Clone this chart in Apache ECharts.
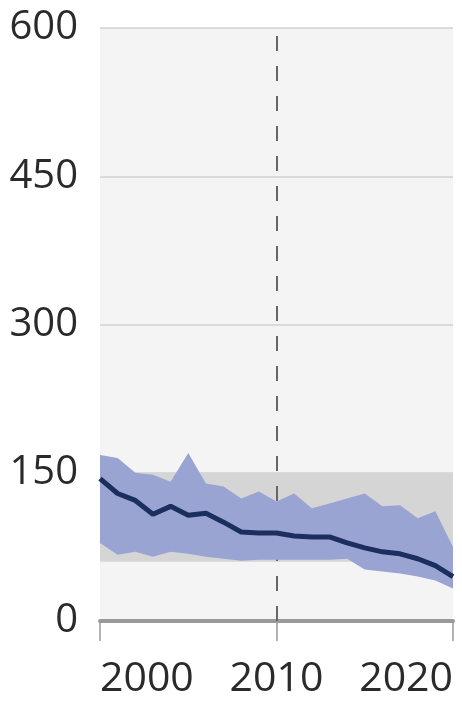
<!DOCTYPE html>
<html>
<head>
<meta charset="utf-8">
<script src="https://cdn.jsdelivr.net/npm/echarts@6/dist/echarts.min.js"></script>
<style>
html,body{margin:0;padding:0;background:#fff;}
#chart{width:462px;height:702px;}
</style>
</head>
<body>
<div id="chart"></div>
<script>
var years = ['2000','2001','2002','2003','2004','2005','2006','2007','2008','2009','2010','2011','2012','2013','2014','2015','2016','2017','2018','2019','2020'];
var central = [144,129,122,108,116,107,109,100,90,89,89,86,85,85,79,74,70,68,63,56,45];
var upper = [168,165,150,148,141,170,139,136,124,131,121,129,114,119,124,129,116,117,104,111,75];
var lower = [79,67,70,65,70,68,65,63,61,62,62,62,62,62,63,52,50,48,45,41,33];
var refBand = [60,150];
var yTicks = [0,150,300,450,600];
var xTickLabels = ['2000','2010','2020'];
var markYear = '2010';

var chart = echarts.init(document.getElementById('chart'), null, {renderer:'canvas'});
var diff = upper.map(function(u,i){ return u - lower[i]; });
function showTick(i, v){ return xTickLabels.indexOf(String(v)) >= 0; }

chart.setOption({
  animation:false,
  backgroundColor:'#ffffff',
  grid:{left:100,right:9,top:28,bottom:81,show:true,backgroundColor:'#f4f4f4',borderWidth:0},
  xAxis:{
    type:'category', data:years, boundaryGap:false,
    axisLine:{show:true, onZero:false, lineStyle:{color:'#9a9a9a', width:4}},
    axisTick:{show:true, length:20, interval:showTick, lineStyle:{color:'#9a9a9a', width:1.5}},
    splitLine:{show:false},
    axisLabel:{fontFamily:'Open Sans', fontSize:41, color:'#2a2a2a', margin:38,
      interval:showTick, alignMinLabel:'left', alignMaxLabel:'right'}
  },
  yAxis:{
    type:'value', min:yTicks[0], max:yTicks[yTicks.length-1], interval:150,
    axisLine:{show:false}, axisTick:{show:false},
    splitLine:{show:true, lineStyle:{color:'#d2d2d2', width:1.5}},
    axisLabel:{fontFamily:'Open Sans', fontSize:40, color:'#2a2a2a', margin:22}
  },
  series:[
    {
      name:'reference', type:'line', data:[], symbol:'none', z:1, zlevel:0, silent:true,
      markArea:{silent:true, z:1, itemStyle:{color:'#d5d5d5'},
        data:[[{yAxis:refBand[0]},{yAxis:refBand[1]}]]},
      markLine:{silent:true, z:1, symbol:'none', label:{show:false},
        lineStyle:{color:'#666666', width:2, type:[15,15]},
        data:[{xAxis:markYear}]}
    },
    {
      name:'lower', type:'line', stack:'band', data:lower, symbol:'none',
      lineStyle:{opacity:0}, z:5, silent:true
    },
    {
      name:'range', type:'line', stack:'band', data:diff, symbol:'none',
      lineStyle:{opacity:0}, areaStyle:{color:'#9aa4d2', opacity:1}, z:6, silent:true
    },
    {
      name:'central', type:'line', data:central, symbol:'none',
      lineStyle:{color:'#1b2f5f', width:5}, z:7
    }
  ]
});
</script>
</body>
</html>
